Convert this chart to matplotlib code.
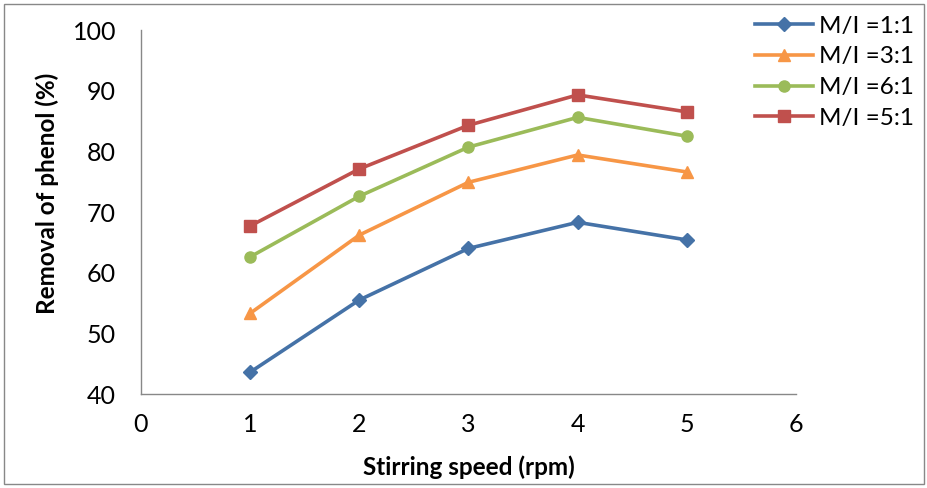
import matplotlib
matplotlib.use("Agg")
import matplotlib.pyplot as plt
from matplotlib.patches import Rectangle

x = [1, 2, 3, 4, 5]
series_labels = ["M/I =1:1", "M/I =3:1", "M/I =6:1", "M/I =5:1"]
s11 = [43.6, 55.5, 64.0, 68.3, 65.4]
s31 = [53.3, 66.2, 74.9, 79.4, 76.6]
s61 = [62.6, 72.6, 80.7, 85.6, 82.5]
s51 = [67.7, 77.1, 84.3, 89.3, 86.5]
xticks = [0, 1, 2, 3, 4, 5, 6]
yticks = [40, 50, 60, 70, 80, 90, 100]

plt.rcParams['font.family'] = ['Lato', 'DejaVu Sans']

fig = plt.figure(figsize=(9.28, 4.88), dpi=100)
ax = fig.add_axes([141/928, 1-394/488, (796-141)/928, (394-30)/488])

styles = [
    (s11, "#4572A7", "D", 7),
    (s31, "#F79646", "^", 9),
    (s61, "#9BBB59", "o", 8),
    (s51, "#C0504D", "s", 8),
]
for (vals, c, m, ms), lab in zip(styles, series_labels):
    ax.plot(x, vals, color=c, marker=m, markersize=ms, linewidth=2.6, label=lab)

ax.set_xlim(0, 6)
ax.set_ylim(40, 100)
ax.set_xticks(xticks)
ax.set_yticks(yticks)
ax.tick_params(axis='both', length=0, labelsize=18)
ax.tick_params(axis='x', pad=14)
ax.tick_params(axis='y', pad=18)
for s in ['top', 'right']:
    ax.spines[s].set_visible(False)
for s in ['left', 'bottom']:
    ax.spines[s].set_color('#888888')
    ax.spines[s].set_linewidth(1.0)

ax.set_xlabel("Stirring speed (rpm)", fontsize=17.5, fontweight='bold', labelpad=14)
ax.set_ylabel("Removal of phenol (%)", fontsize=17.5, fontweight='bold', labelpad=6)
ax.yaxis.set_label_coords(-0.125, 0.55)

fig.legend(loc='upper left', bbox_to_anchor=(745/928, 1-6/488), frameon=False,
           fontsize=17.5, handlelength=2.4, labelspacing=0.4, handletextpad=0.25,
           borderaxespad=0)

fig.patches.append(Rectangle((4/928, 4/488), 1-8/928, 1-8/488, transform=fig.transFigure,
                             fill=False, edgecolor='#888888', linewidth=1.0))

fig.savefig("out.png", dpi=100)
